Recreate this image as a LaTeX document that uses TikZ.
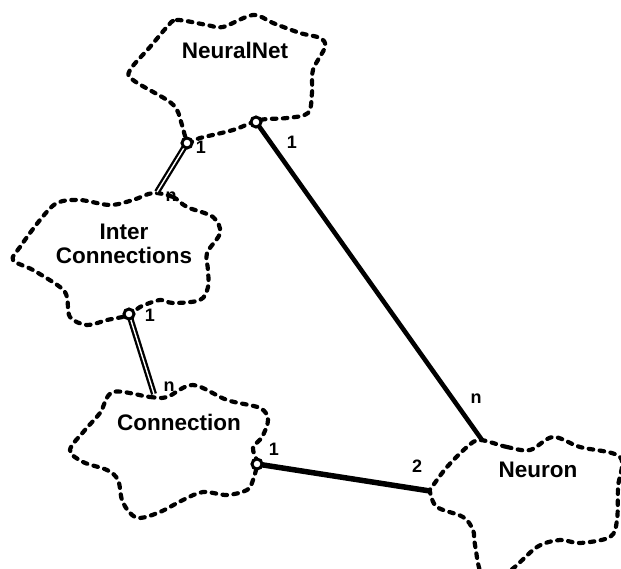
\documentclass[tikz,border=0pt]{standalone}
\usepackage{fontspec}
\setmainfont{Liberation Sans}
\begin{document}
\begin{tikzpicture}[x=1pt,y=-1pt,
  cloud/.style={draw=black,line width=4.2pt,dash pattern=on 4.5pt off 6.5pt,line cap=round,line join=round},
  lbl/.style={font=\fontsize{22.5}{24}\selectfont\bfseries,align=center,inner sep=0pt},
  mult/.style={font=\fontsize{18}{18}\selectfont\bfseries,inner sep=0pt},
  haslink/.style={draw=black,line width=2.3pt,double=white,double distance=1.4pt},
  thicklink/.style={draw=black,line width=5.5pt},
  owner/.style={circle,draw=black,line width=3pt,fill=white,minimum size=10pt,inner sep=0pt}]
\useasboundingbox (0,0) rectangle (621,568);
\clip (0,0) rectangle (621,568);
% clouds
\draw[cloud] plot[smooth cycle,tension=0.55] coordinates {
 (167,27) (177,20) (207,25) (223,27) (253,15) (273,23) (300,33) (320,38) (325,47)
 (313,70) (312,93) (308,113) (287,118) (260,120) (233,130) (200,138) (188,142)
 (182,125) (177,110) (167,100) (133,80) (130,70) (150,47)};
\draw[cloud] plot[smooth cycle,tension=0.55] coordinates {
 (153,193) (173,197) (187,207) (213,217) (220,233) (207,253) (208,270) (208,287)
 (200,300) (173,303) (160,300) (140,307) (130,315) (107,320) (87,325) (70,317)
 (67,297) (60,287) (33,270) (13,260) (20,247) (40,220) (57,203) (80,200) (110,205) (133,200)};
\draw[cloud] plot[smooth cycle,tension=0.55] coordinates {
 (113,392) (150,397) (167,397) (193,385) (227,400) (260,408) (268,420) (262,437)
 (253,448) (257,463) (253,480) (247,490) (227,495) (203,492) (183,500) (160,512)
 (140,518) (130,513) (122,500) (118,480) (107,470) (83,462) (70,450) (85,430) (100,413)};
\draw[cloud] plot[smooth cycle,tension=0.55] coordinates {
 (480,440) (507,447) (530,450) (553,437) (580,447) (620,457) (618,487) (617,520)
 (610,537) (580,543) (560,540) (537,547) (508,572) (483,576) (475,545) (473,530)
 (463,517) (437,507) (430,492) (432,487) (447,467) (467,447)};
% class names
\node[lbl] (nn) at (235,50) {NeuralNet};
\node[lbl] (ic) at (124,244) {Inter\\Connections};
\node[lbl] (cn) at (179,422) {Connection};
\node[lbl] (ne) at (538,470) {Neuron};
% connector ends
\coordinate (nnA) at (187,143);
\coordinate (icTop) at (157,192);
\coordinate (nnB) at (256,122);
\coordinate (neTop) at (482,440);
\coordinate (icB) at (129,314);
\coordinate (cnTop) at (154,394);
\coordinate (cnB) at (257,464);
\coordinate (neLeft) at (430,491);
% connectors
\draw[haslink] (nnA) -- (icTop);
\draw[thicklink,line width=4.6pt] (nnB) -- (neTop);
\draw[haslink] (icB) -- (cnTop);
\draw[thicklink] (cnB) -- (neLeft);
\node[owner] (oA) at (nnA) {};
\node[owner] (oB) at (nnB) {};
\node[owner] (oC) at (icB) {};
\node[owner] (oD) at (cnB) {};
% multiplicities
\node[mult] (m1) at (201,147) {1};
\node[mult] (m2) at (171,197) {n};
\node[mult] (m3) at (292,142) {1};
\node[mult] (m4) at (476,399) {n};
\node[mult] (m5) at (150,315) {1};
\node[mult] (m6) at (169,387) {n};
\node[mult] (m7) at (274,449) {1};
\node[mult] (m8) at (417,466) {2};
\end{tikzpicture}
\end{document}
